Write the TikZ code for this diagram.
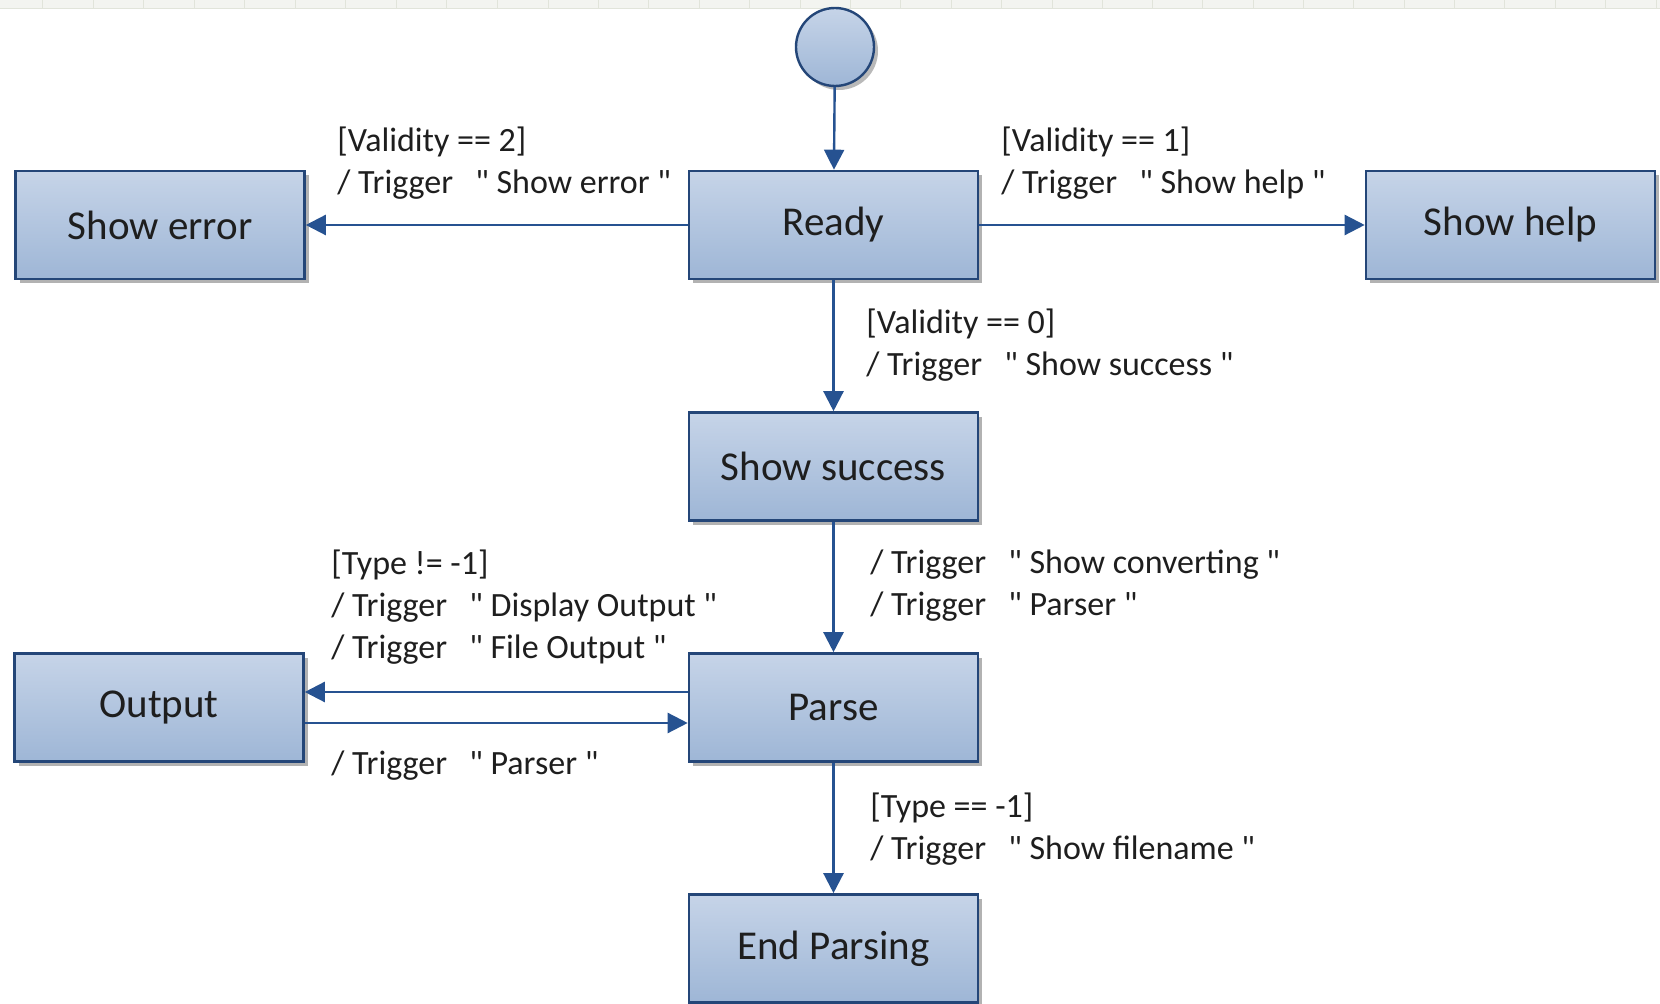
\documentclass[tikz,border=0pt]{standalone}
\usepackage{fontspec}
\setmainfont{Carlito}[Ligatures=TeXOff]
\usetikzlibrary{arrows.meta,shadows,positioning}
\definecolor{boxtop}{RGB}{198,212,232}
\definecolor{boxbot}{RGB}{158,182,214}
\definecolor{boxline}{RGB}{36,70,120}
\definecolor{arrowcol}{RGB}{38,82,145}
\definecolor{txt}{RGB}{30,30,30}
\definecolor{grid}{RGB}{225,228,218}
\tikzset{
  statebox/.style={rectangle, draw=boxline, line width=1.3pt, top color=boxtop, bottom color=boxbot,
    minimum width=144.5pt, minimum height=54pt, inner sep=0pt, font=\fontsize{20.5}{24}\selectfont, text=txt,
    drop shadow={shadow xshift=2.2pt, shadow yshift=-2.2pt, fill=black!55, opacity=0.55}},
  startnode/.style={circle, draw=boxline, line width=1.2pt, top color=boxtop, bottom color=boxbot,
    minimum size=39pt, inner sep=0pt,
    drop shadow={shadow xshift=2pt, shadow yshift=-2pt, fill=black!55, opacity=0.5}},
  conn/.style={draw=arrowcol, line width=1.2pt, -{Triangle[length=10pt,width=10pt]}},
  lbl/.style={anchor=west, inner sep=0pt, align=left, font=\fontsize{17}{21}\selectfont, text=txt}
}
\newcommand{\qt}{\symbol{34}}
\newcommand{\trg}{/ Trigger\hspace{0.65em}\qt\ }
\begin{document}
\begin{tikzpicture}[x=0.5pt,y=-0.5pt]
\useasboundingbox (0,0) rectangle (1660,1004);
\clip (0,0) rectangle (1660,1004);
% faint grid strip at top
\fill[grid!40] (0,0) rectangle (1660,8);
\draw[grid, line width=0.5pt] (0,8.5) -- (1660,8.5);
\foreach \gx in {42,93,143,194,244,295,345,396,446,497,548,598,648,699,749,800,850,900,951,1001,1052,1102,1152,1202,1253,1303,1353,1404,1454,1504,1555,1605,1656}
  \draw[grid, line width=0.5pt] (\gx,0) -- (\gx,8.5);

\node[startnode] (start) at (835,47) {};
\node[statebox] (ready) at (833.5,225) {Ready};
\node[statebox] (err) at (160,225) {Show error};
\node[statebox] (help) at (1510.5,225) {Show help};
\node[statebox] (succ) at (833.5,466.5) {Show success};
\node[statebox] (out) at (159,707.5) {Output};
\node[statebox] (parse) at (833.5,707.5) {Parse};
\node[statebox] (endp) at (833.5,948.5) {End Parsing};

\draw[conn] (start) -- (ready);
\draw[conn] (ready) -- (err);
\draw[conn] (ready) -- (help);
\draw[conn] (ready) -- (succ);
\draw[conn] (succ) -- (parse);
\draw[conn] ([yshift=7.75pt]parse.west) -- ([yshift=7.75pt]out.east);
\draw[conn] ([yshift=-7.75pt]out.east) -- ([yshift=-7.75pt]parse.west);
\draw[conn] (parse) -- (endp);

\node[lbl] (l1) at (337,163) {[Validity == 2]\\\trg Show error \qt};
\node[lbl] (l2) at (1001,163) {[Validity == 1]\\\trg Show help \qt};
\node[lbl] (l3) at (866,345) {[Validity == 0]\\\trg Show success \qt};
\node[lbl] (l4) at (870,586) {\trg Show converting \qt\\\trg Parser \qt};
\node[lbl] (l5) at (331,607) {[Type != -1]\\\trg Display Output \qt\\\trg File Output \qt};
\node[lbl] (l6) at (331,766) {\trg Parser \qt};
\node[lbl] (l7) at (870,829) {[Type == -1]\\\trg Show filename \qt};
\end{tikzpicture}
\end{document}
